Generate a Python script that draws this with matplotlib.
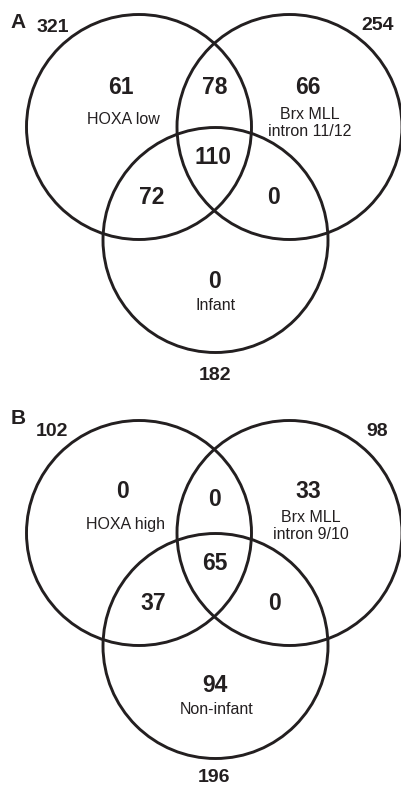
import matplotlib
matplotlib.use("Agg")
import matplotlib.pyplot as plt
from matplotlib.patches import Circle

# Data: region counts for each Venn diagram
# order: only-left, left&right, only-right, all three, left&bottom, right&bottom, only-bottom
panels = ["A", "B"]
counts_a = [61, 78, 66, 110, 72, 0, 0]
counts_b = [0, 0, 33, 65, 37, 0, 94]
totals_a = [321, 254, 182]
totals_b = [102, 98, 196]
names_a = ["HOXA low", "Brx MLL\nintron 11/12", "Infant"]
names_b = ["HOXA high", "Brx MLL\nintron 9/10", "Non-infant"]

ink = "#231f20"
plt.rcParams["font.family"] = ["Liberation Sans", "DejaVu Sans"]

fig = plt.figure(figsize=(4.02, 7.85), dpi=100)
ax = fig.add_axes([0, 0, 1, 1])
ax.set_xlim(0, 402)
ax.set_ylim(785, 0)
ax.set_aspect("equal")
ax.axis("off")

r = 112.5
# circle centres (left, right, bottom) for panel A; panel B is shifted down
centres = [(139, 127), (289.5, 127), (215.5, 240)]

layout_a = dict(
    letter=(18, 22),
    regions=[(121, 88), (215, 88), (308, 88), (213, 158), (152, 198), (274, 198), (215, 282)],
    names=[(123, 120), (310, 123), (216, 306)],
    totals=[(53, 27), (378, 26), (215, 375)],
)
layout_b = dict(
    letter=(18, 419),
    regions=[(123, 492), (215, 500), (308, 492), (215, 563), (153, 603), (275, 603), (215, 686)],
    names=[(126, 525), (311, 526), (217, 710)],
    totals=[(52, 432), (377, 431), (214, 778)],
)


def draw_venn(dy, letter, counts, totals, names, lay):
    for cx, cy in centres:
        ax.add_patch(Circle((cx, cy + dy), r, fill=False, lw=2.1, ec=ink))
    ax.text(*lay["letter"], letter, ha="center", va="center", fontsize=15,
            fontweight="bold", color=ink)
    for (x, y), c in zip(lay["regions"], counts):
        ax.text(x, y, str(c), ha="center", va="center", fontsize=16.5,
                fontweight="bold", color=ink)
    for (x, y), n in zip(lay["names"], names):
        ax.text(x, y, n, ha="center", va="center", fontsize=11.5,
                color=ink, linespacing=1.1)
    for (x, y), t in zip(lay["totals"], totals):
        ax.text(x, y, str(t), ha="center", va="center", fontsize=14,
                fontweight="bold", color=ink)


draw_venn(0, panels[0], counts_a, totals_a, names_a, layout_a)
draw_venn(406, panels[1], counts_b, totals_b, names_b, layout_b)

fig.savefig("out.png", dpi=100, facecolor="white")
